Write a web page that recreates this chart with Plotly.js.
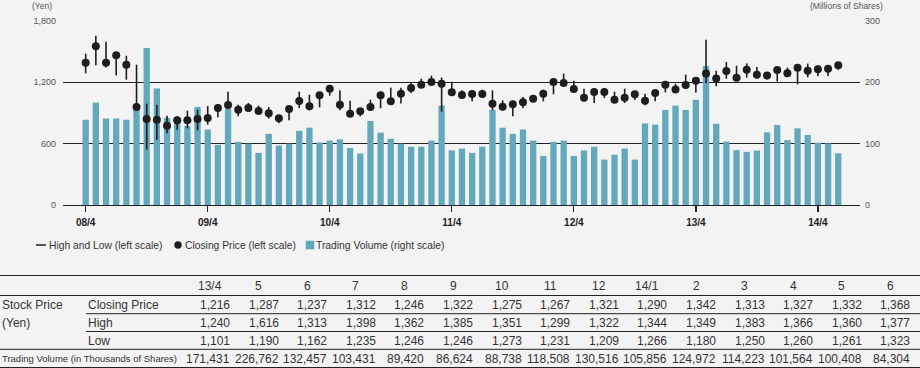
<!DOCTYPE html>
<html>
<head>
<meta charset="utf-8">
<script src="https://cdn.plot.ly/plotly-3.0.1.min.js"></script>
<style>
  html, body { margin: 0; padding: 0; background: #f3f3f3; }
  #chart { width: 920px; height: 368px; }
</style>
</head>
<body>
<div id="chart"></div>
<script>
// ---------------- DATA ----------------
// Monthly data from 08/4 (April 2008) to 14/6 (June 2014)
// Estimates for 08/4 .. 13/3 (60 months)
const closeEarly = [1392,1552,1392,1464,1373,959,841,835,776,828,828,841,
                    850,949,978,933,949,919,897,848,939,1017,965,1073,
                    1138,981,893,916,959,1073,1014,1089,1145,1177,1203,1187,
                    1102,1076,1086,1086,991,962,985,1004,1040,1089,1203,1193,
                    1135,1050,1105,1105,1030,1050,1083,1021,1096,1177,1131,1174];
const highEarly  = [1480,1656,1597,1493,1460,1373,991,981,874,867,923,932,
                    968,975,1109,981,998,972,959,880,959,1109,1079,1090,
                    1167,1122,1021,946,1030,1102,1148,1148,1203,1236,1265,1246,
                    1206,1122,1112,1128,1122,1024,1014,1056,1076,1128,1226,1285,
                    1216,1138,1128,1145,1109,1138,1112,1089,1128,1206,1187,1275];
const lowEarly   = [1288,1366,1346,1268,1226,932,541,639,701,737,750,730,
                    786,858,939,867,926,900,845,799,828,949,926,955,
                    1070,926,867,867,926,946,998,994,1096,1161,1177,913,
                    1079,1040,1014,1063,926,926,867,946,1014,1014,1083,1161,
                    1115,1014,998,1046,1008,998,1027,975,1014,1102,1102,1135];
const volumeEarly = [139,167,141,141,139,160,256,190,142,139,129,160,
                     123,98,157,103,100,85,116,97,100,121,126,102,
                     105,107,93,84,137,118,108,100,95,95,105,162,
                     89,92,85,95,155,126,116,123,105,80,103,105,
                     80,89,95,74,82,92,74,133,131,155,162,155]; // millions of shares

// Table (13/4 .. 14/6)
const tableMonths = ['13/4','5','6','7','8','9','10','11','12','14/1','2','3','4','5','6'];
const tableClose  = [1216,1287,1237,1312,1246,1322,1275,1267,1321,1290,1342,1313,1327,1332,1368];
const tableHigh   = [1240,1616,1313,1398,1362,1385,1351,1299,1322,1344,1349,1383,1366,1360,1377];
const tableLow    = [1101,1190,1162,1235,1246,1246,1273,1231,1209,1266,1180,1250,1260,1261,1323];
const tableVolume = [171431,226762,132457,103431,89420,86624,88738,118508,130516,105856,124972,114223,101564,100408,84304]; // thousands

const tickMonths = ['08/4','09/4','10/4','11/4','12/4','13/4','14/4'];
const tickLabels = ['08/4','09/4','10/4','11/4','12/4','13/4','14/4'];

// ---------------- BUILD SERIES ----------------
const months = [];
for (let yy = 8, mm = 4; months.length < 75; ) {
  months.push(String(yy).padStart(2,'0') + '/' + mm);
  mm++; if (mm > 12) { mm = 1; yy++; }
}
const closePrice = closeEarly.concat(tableClose);
const highPrice  = highEarly.concat(tableHigh);
const lowPrice   = lowEarly.concat(tableLow);
const volume     = volumeEarly.concat(tableVolume.map(v => v / 1000));

const hlX = [], hlY = [];
months.forEach((m, i) => { hlX.push(m, m, null); hlY.push(highPrice[i], lowPrice[i], null); });

// ---------------- STYLE ----------------
const FONT = "'Liberation Sans', Arial, Helvetica, sans-serif";
const BAR = '#63a8bb';
const INK = '#1e1e1e';
const TXT = '#333333';

const L = 63, R = 60, T = 21, B = 163, WID = 920, HEI = 368;
const PW = WID - L - R, PH = HEI - T - B;
const X = px => (px - L) / PW;
const Y = py => (HEI - B - py) / PH;

const traces = [
  { type: 'bar', x: months, y: volume, yaxis: 'y', width: 0.62,
    marker: { color: BAR, line: { width: 0 } }, hoverinfo: 'skip', name: 'Trading Volume (right scale)' },
  { type: 'scatter', mode: 'lines', x: hlX, y: hlY, yaxis: 'y2', connectgaps: false,
    line: { color: INK, width: 1.6 }, hoverinfo: 'skip', name: 'High and Low (left scale)' },
  { type: 'scatter', mode: 'markers', x: months, y: closePrice, yaxis: 'y2',
    marker: { color: INK, size: 8, line: { width: 0 } }, hoverinfo: 'skip', name: 'Closing Price (left scale)' }
];

const shapes = [];
const annotations = [];

function hline(x0, x1, py, w) {
  shapes.push({ type: 'line', xref: 'paper', yref: 'paper', x0: X(x0), x1: X(x1), y0: Y(py), y1: Y(py),
                line: { color: '#222', width: w || 1 } });
}
function text(t, px, py, anchor, size, color, extra) {
  annotations.push(Object.assign({ text: t, xref: 'paper', yref: 'paper', x: X(px), y: Y(py),
    xanchor: anchor, yanchor: 'middle', showarrow: false, borderpad: 0, borderwidth: 0,
    align: anchor === 'right' ? 'right' : (anchor === 'center' ? 'center' : 'left'),
    font: { family: FONT, size: size, color: color } }, extra || {}));
}

// Axis unit labels
text('(Yen)', 32, 6, 'left', 8.5, '#555');
text('(Millions of Shares)', 883, 6, 'right', 8.5, '#555');

// Legend
shapes.push({ type: 'line', xref: 'paper', yref: 'paper', x0: X(36), x1: X(46), y0: Y(245), y1: Y(245),
              line: { color: INK, width: 1.5 } });
text('High and Low (left scale)', 49, 245, 'left', 10.3, TXT);
shapes.push({ type: 'circle', xref: 'paper', yref: 'paper', x0: X(174.3), x1: X(181.7), y0: Y(241.3), y1: Y(248.7),
              fillcolor: INK, line: { width: 0 } });
text('Closing Price (left scale)', 185, 245, 'left', 10.3, TXT);
shapes.push({ type: 'rect', xref: 'paper', yref: 'paper', x0: X(305.7), x1: X(314.3), y0: Y(240.7), y1: Y(249.3),
              fillcolor: BAR, line: { width: 0 } });
text('Trading Volume (right scale)', 316, 245, 'left', 10.3, TXT);

// Table lines
hline(0, 920, 275.5);
hline(0, 920, 295.5);
hline(86, 920, 313.7);
hline(86, 920, 331.5);
hline(0, 920, 349.3);
hline(0, 920, 367.5);

// Table row labels
text('Stock Price', 2, 305, 'left', 12, TXT);
text('(Yen)', 2, 322.5, 'left', 12, TXT);
text('Closing Price', 88, 305, 'left', 12, TXT);
text('High', 88, 322.5, 'left', 12, TXT);
text('Low', 88, 340.5, 'left', 12, TXT);
text('Trading Volume (in Thousands of Shares)', 1.5, 358.5, 'left', 9.6, TXT);

const fmt = v => v.toLocaleString('en-US');
tableMonths.forEach((m, k) => {
  const r = 230 + k * 48.6;
  text(m, r - 20, 285.8, 'center', 12, TXT);
  text(fmt(tableClose[k]), r, 305, 'right', 12, TXT);
  text(fmt(tableHigh[k]), r, 322.5, 'right', 12, TXT);
  text(fmt(tableLow[k]), r, 340.5, 'right', 12, TXT);
  text(fmt(tableVolume[k]), r, 358.5, 'right', 12, TXT);
});

const layout = {
  width: WID, height: HEI,
  paper_bgcolor: '#f3f3f3', plot_bgcolor: '#f3f3f3',
  margin: { l: L, r: R, t: T, b: B, pad: 0 },
  showlegend: false,
  font: { family: FONT, color: TXT },
  xaxis: {
    type: 'category', range: [-2.23, 76.14], tickvals: tickMonths, ticktext: tickLabels,
    ticks: 'outside', ticklen: 6, tickwidth: 1.3, tickcolor: '#222',
    showgrid: false, zeroline: false, showline: true, linecolor: '#222', linewidth: 1,
    ticklabelstandoff: 2,
    tickfont: { family: FONT, size: 10, color: '#222', weight: 'bold' }, fixedrange: true
  },
  yaxis: {
    range: [0, 300], side: 'right', tickvals: [0, 100, 200, 300],
    showgrid: false, zeroline: false, showline: false, ticks: '',
    ticklabelstandoff: 4,
    tickfont: { family: FONT, size: 9, color: '#555' }, fixedrange: true
  },
  yaxis2: {
    range: [0, 1800], side: 'left', overlaying: 'y', tickvals: [0, 600, 1200, 1800], tickformat: ',',
    showgrid: true, gridcolor: '#222', gridwidth: 1, zeroline: false, showline: false, ticks: '',
    ticklabelstandoff: 6,
    tickfont: { family: FONT, size: 9, color: '#555' }, fixedrange: true
  },
  shapes: shapes,
  annotations: annotations
};

Plotly.newPlot('chart', traces, layout, { staticPlot: true, displayModeBar: false }).then(() => {
  document.querySelectorAll('.annotation-text').forEach(el => {
    if (el.textContent.indexOf('Trading Volume (in') === 0) {
      el.setAttribute('textLength', '175');
      el.setAttribute('lengthAdjust', 'spacingAndGlyphs');
    }
  });
});
</script>
</body>
</html>
